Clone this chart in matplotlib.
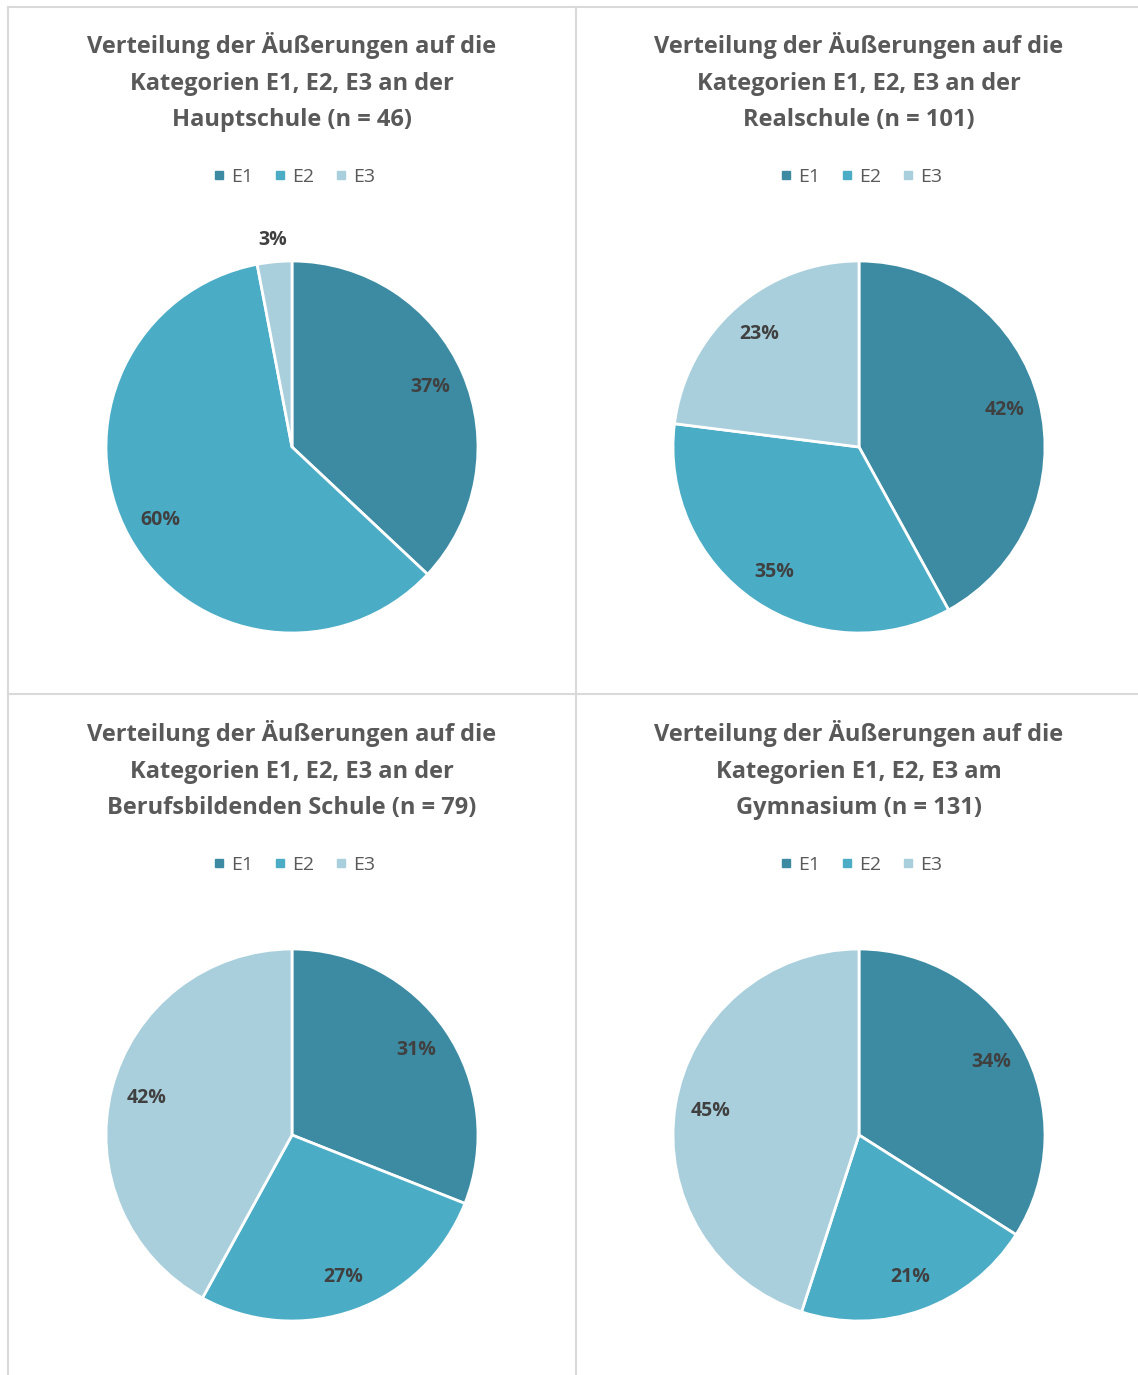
import numpy as np
import matplotlib.pyplot as plt
from matplotlib.lines import Line2D

plt.rcParams['font.family'] = ['Open Sans', 'DejaVu Sans']

# Daten
kategorien = ['E1', 'E2', 'E3']
titel = [
    'Verteilung der Äußerungen auf die\nKategorien E1, E2, E3 an der\nHauptschule (n = 46)',
    'Verteilung der Äußerungen auf die\nKategorien E1, E2, E3 an der\nRealschule (n = 101)',
    'Verteilung der Äußerungen auf die\nKategorien E1, E2, E3 an der\nBerufsbildenden Schule (n = 79)',
    'Verteilung der Äußerungen auf die\nKategorien E1, E2, E3 am\nGymnasium (n = 131)',
]
hauptschule = [37, 60, 3]
realschule = [42, 35, 23]
berufsschule = [31, 27, 42]
gymnasium = [34, 21, 45]
alle_werte = [hauptschule, realschule, berufsschule, gymnasium]

farben = ['#3C8BA3', '#4BACC6', '#A9CFDC']
W, H = 1138, 1375

fig = plt.figure(figsize=(W / 100, H / 100), dpi=100)

# Panel-Rahmen
rahmen = '#D9D9D9'
def linie(x0, y0, x1, y1):
    fig.add_artist(Line2D([x0 / W, x1 / W], [1 - y0 / H, 1 - y1 / H],
                          color=rahmen, lw=1.5, transform=fig.transFigure))
linie(8, 7, W, 7)
linie(8, 7, 8, H)
linie(576, 7, 576, H)
linie(8, 694, W, 694)

zentren = [(292, 447), (859, 447), (292, 1135), (859, 1135)]
r = 186

for (cx, cy), werte, t in zip(zentren, alle_werte, titel):
    ax = fig.add_axes([(cx - r) / W, 1 - (cy + r) / H, 2 * r / W, 2 * r / H])
    wedges, _ = ax.pie(werte, colors=farben, startangle=90, counterclock=False,
                       radius=1, wedgeprops=dict(edgecolor='white', linewidth=2))
    ax.set_xlim(-1, 1)
    ax.set_ylim(-1, 1)
    ax.set_aspect('equal')
    ax.axis('off')
    # Beschriftungen
    for w, v in zip(wedges, werte):
        mitte = np.deg2rad((w.theta1 + w.theta2) / 2)
        d = 1.12 if v < 5 else 0.81
        ax.text(d * np.cos(mitte), d * np.sin(mitte), f'{v}%', ha='center', va='center',
                fontsize=14, fontweight='bold', color='#404040')

    fig.text(cx / W, 1 - (cy - 365) / H, t, ha='center', va='center', fontsize=17,
             fontweight='bold', color='#595959', linespacing=1.72)
    handles = [Line2D([], [], marker='s', ls='', color=c, markersize=6) for c in farben]
    fig.legend(handles, kategorien, loc='center', bbox_to_anchor=(cx / W, 1 - (cy - 270) / H),
               ncol=3, frameon=False, fontsize=14, handletextpad=0.1, columnspacing=0.9,
               handlelength=1.0, labelcolor='#595959')

fig.savefig('out.png', dpi=100, facecolor='white')
